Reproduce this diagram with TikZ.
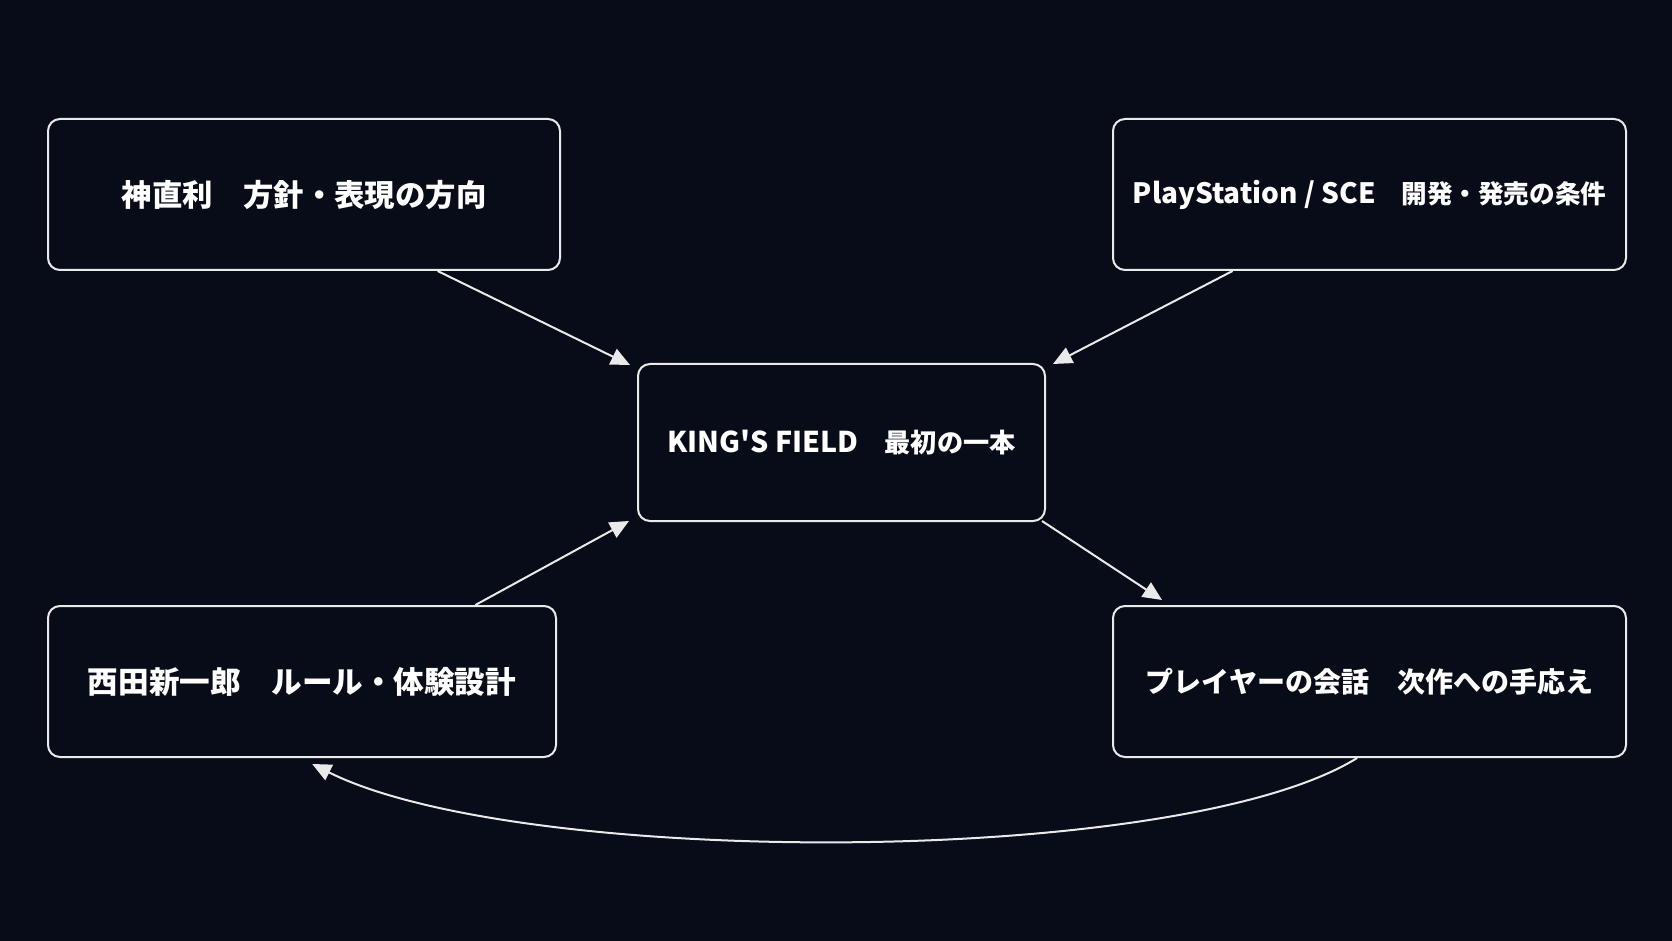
\documentclass[tikz,border=0pt]{standalone}
\usepackage{fontspec}
\setmainfont{Noto Sans CJK JP}
\usetikzlibrary{arrows.meta,calc}
\definecolor{bg}{HTML}{080C18}
\definecolor{ln}{HTML}{EAEAEA}
\newcommand\fsz[1]{\fontsize{#1}{1.2\dimexpr#1pt\relax}\selectfont\bfseries}
\begin{document}
\begin{tikzpicture}[x=0.5pt,y=-0.5pt,
  box/.style={draw=ln,line width=1pt,rounded corners=6pt,fill=bg,text=white,
    minimum height=75.5pt,inner sep=0pt},
  conn/.style={draw=ln,line width=1pt,-{Triangle[length=9.5pt,width=8.5pt]}}]
\fill[bg] (0,0) rectangle (1672,941);
\useasboundingbox (0,0) rectangle (1672,941);
\node[box,minimum width=256pt,font=\fsz{15.2}] (tl) at (304,194.5) {神直利　方針・表現の方向};
\node[box,minimum width=256.5pt,font=\fsz{12.8}] (tr) at (1369.5,194.5) {{\fsz{14}PlayStation / SCE}　開発・発売の条件};
\node[box,minimum width=203.5pt,minimum height=78.5pt,font=\fsz{13.1}] (c) at (841.5,442.5) {{\fsz{14.3}KING\textquotesingle S FIELD}　最初の一本};
\node[box,minimum width=254pt,font=\fsz{15.3}] (bl) at (302,681.5) {西田新一郎　ルール・体験設計};
\node[box,minimum width=256.5pt,font=\fsz{14}] (br) at (1369.5,681.5) {プレイヤーの会話　次作への手応え};
\coordinate (a1s) at ($(tl.south west)!0.76!(tl.south east)$);
\coordinate (a2s) at ($(tr.south west)!0.234!(tr.south east)$);
\coordinate (a3s) at ($(bl.north west)!0.84!(bl.north east)$);
\coordinate (a4e) at ($(br.north west)+(50,-5)$);
\coordinate (a5s) at ($(br.south west)!0.476!(br.south east)$);
\coordinate (a5e) at ($(bl.south west)!0.52!(bl.south east)+(0,6)$);
\draw[conn] (a1s) -- ($(c.north west)+(-7,2)$);
\draw[conn] (a2s) -- ($(c.north east)+(7,1)$);
\draw[conn] (a3s) -- ($(c.south west)+(-8,-1)$);
\draw[conn] ($(c.south east)+(-4,-1)$) -- (a4e);
\draw[conn] (a5s) .. controls (1180,868) and (520,868) .. (a5e);
\end{tikzpicture}
\end{document}
